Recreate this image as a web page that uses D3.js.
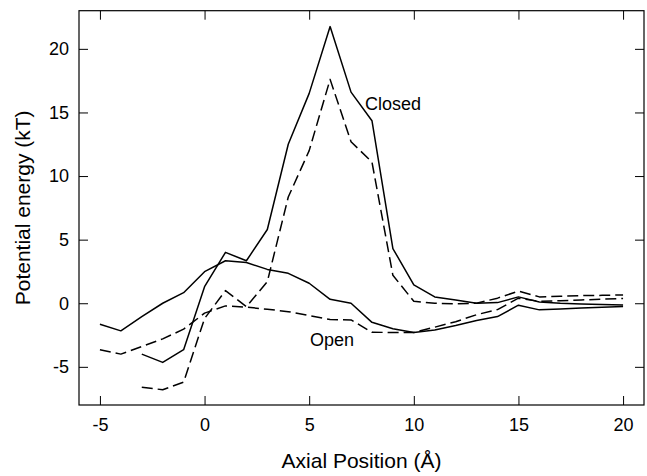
<!DOCTYPE html>
<html>
<head>
<meta charset="utf-8">
<script src="https://cdn.jsdelivr.net/npm/d3@7"></script>
<style>
  body { margin: 0; background: #fff; }
  svg text { font-family: "Liberation Sans", Arial, sans-serif; fill: #000; }
</style>
</head>
<body>
<svg id="chart" width="647" height="476"></svg>
<script>
// axial positions (Å)
const xOpen = d3.range(-5, 21);
const xClosed = d3.range(-3, 21);

// potential energy (kT)
const closedSolid = [-4.0, -4.65, -3.65, 1.3, 4.0, 3.34, 5.8, 12.5, 16.5, 21.75, 16.6, 14.35,
  4.3, 1.45, 0.5, 0.25, 0.0, 0.05, 0.5, 0.1, 0.0, -0.05, -0.1, -0.13];
const closedDashed = [-6.6, -6.8, -6.2, -1.2, 0.99, -0.27, 1.7, 8.35, 12.0, 17.6, 12.7, 11.1,
  2.2, 0.15, 0.0, -0.05, 0.0, 0.4, 0.95, 0.5, 0.55, 0.6, 0.62, 0.65];
const openSolid = [-1.65, -2.17, -1.05, 0.0, 0.83, 2.48, 3.34, 3.2, 2.66, 2.35, 1.57, 0.31,
  0.0, -1.5, -2.0, -2.3, -2.1, -1.75, -1.36, -1.05, -0.15, -0.52, -0.45, -0.38, -0.32, -0.26];
const openDashed = [-3.66, -4.0, -3.4, -2.8, -2.04, -0.78, -0.21, -0.31, -0.47, -0.66, -0.97, -1.28,
  -1.31, -2.28, -2.3, -2.3, -1.88, -1.45, -0.9, -0.5, 0.4, 0.15, 0.2, 0.26, 0.32, 0.38];

const xTicks = [-5, 0, 5, 10, 15, 20];
const yTicks = [-5, 0, 5, 10, 15, 20];

const svg = d3.select("#chart");
const plotL = 79, plotR = 644, plotT = 10.7, plotB = 405;

const x = d3.scaleLinear().domain([-6, 21]).range([plotL, plotR]);
const y = d3.scaleLinear().domain([-8, 23]).range([plotB, plotT]);

// plain hyphen for negatives, like the original
const fmt = d => String(d);

function styleAxis(g) {
  g.select(".domain").remove();
  g.selectAll(".tick line").attr("stroke", "#000").attr("stroke-width", 1);
  g.selectAll(".tick text").style("font-size", "18px").attr("fill", "#000");
}

svg.append("g")
  .attr("transform", `translate(0,${plotB})`)
  .call(d3.axisBottom(x).tickValues(xTicks).tickFormat(fmt).tickSizeInner(-9).tickSizeOuter(0).tickPadding(13))
  .call(styleAxis);

svg.append("g")
  .attr("transform", `translate(0,${plotT})`)
  .call(d3.axisTop(x).tickValues(xTicks).tickSizeInner(-9).tickSizeOuter(0).tickFormat(""))
  .call(styleAxis);

svg.append("g")
  .attr("transform", `translate(${plotL},0)`)
  .call(d3.axisLeft(y).tickValues(yTicks).tickFormat(fmt).tickSizeInner(-9).tickSizeOuter(0).tickPadding(10))
  .call(styleAxis);

svg.append("g")
  .attr("transform", `translate(${plotR},0)`)
  .call(d3.axisRight(y).tickValues(yTicks).tickSizeInner(-9).tickSizeOuter(0).tickFormat(""))
  .call(styleAxis);

svg.append("rect")
  .attr("x", plotL).attr("y", plotT)
  .attr("width", plotR - plotL).attr("height", plotB - plotT)
  .attr("fill", "none").attr("stroke", "#000").attr("stroke-width", 1.2);

const line = d3.line().x(d => x(d[0])).y(d => y(d[1]));

const series = [
  {xs: xClosed, ys: closedSolid, dash: null},
  {xs: xClosed, ys: closedDashed, dash: "11,5"},
  {xs: xOpen, ys: openSolid, dash: null},
  {xs: xOpen, ys: openDashed, dash: "11,5"}
];

svg.selectAll(".series").data(series).join("path")
  .attr("class", "series")
  .attr("d", s => line(s.xs.map((v, i) => [v, s.ys[i]])))
  .attr("fill", "none")
  .attr("stroke", "#000")
  .attr("stroke-width", 1.5)
  .attr("stroke-linejoin", "round")
  .attr("stroke-dasharray", s => s.dash);

svg.append("text").attr("x", 365).attr("y", 110)
  .style("font-size", "18px").text("Closed");
svg.append("text").attr("x", 310).attr("y", 346)
  .style("font-size", "18px").text("Open");

svg.append("text")
  .attr("x", (plotL + plotR) / 2).attr("y", 468)
  .attr("text-anchor", "middle")
  .style("font-size", "21px")
  .text("Axial Position (Å)");

svg.append("text")
  .attr("transform", `translate(30,${(plotT + plotB) / 2}) rotate(-90)`)
  .attr("text-anchor", "middle")
  .style("font-size", "21px")
  .text("Potential energy (kT)");
</script>
</body>
</html>
